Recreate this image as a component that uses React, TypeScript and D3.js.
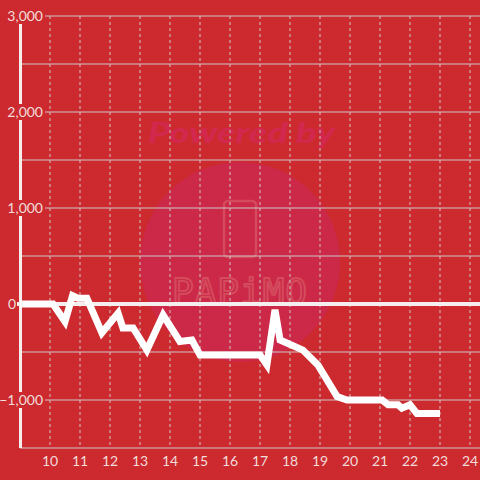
import React from "react";
import * as d3 from "d3";

const hours = [9, 10.1, 10.5, 10.75, 10.93, 11.23, 11.73, 12.27, 12.43, 12.77, 13.23, 13.77, 14.33, 14.73, 15, 17, 17.23, 17.5, 17.67, 18.43, 18.93, 19.57, 19.9, 21.07, 21.27, 21.6, 21.73, 22, 22.23, 23];
const values = [0, 0, -183, 86, 60, 60, -300, -95, -250, -250, -480, -115, -390, -375, -530, -530, -635, -60, -375, -480, -635, -965, -1000, -1000, -1050, -1050, -1085, -1050, -1140, -1140];
const xTicks = [10, 11, 12, 13, 14, 15, 16, 17, 18, 19, 20, 21, 22, 23, 24];
const yGrid = [-1500, -1000, -500, 0, 500, 1000, 1500, 2000, 2500, 3000];
const yLabels = [-1000, 0, 1000, 2000, 3000];

const W = 480, H = 480;
const BG = "#cc2a2e";
const TEXT = "#f2dcdc";
const GRID = "#cfc6c6";
const WHITE = "#f4eeee";

export default function App() {
  const x = d3.scaleLinear().domain([9, 24]).range([20, 470]);
  const y = d3.scaleLinear().domain([-1500, 3000]).range([448, 16]);
  const fmt = d3.format(",");
  const data = hours.map((h, i) => ({ h, v: values[i] }));
  const line = d3.line<{ h: number; v: number }>().x(d => x(d.h)).y(d => y(d.v));
  const font = "Lato, 'Open Sans', sans-serif";

  return (
    <svg width={W} height={H} style={{ position: "absolute", left: 0, top: 0, display: "block" }}>
      <rect x={0} y={0} width={W} height={H} fill={BG} />
      {/* watermark */}
      <circle cx={240} cy={262} r={100} fill="#cc2848" />
      <text x={148} y={143} fontFamily={font} fontWeight={900} fontStyle="italic" fontSize={29} fill="#d2284e" textLength={187} lengthAdjust="spacingAndGlyphs">Powered by</text>
      <rect x={224} y={201} width={32} height={56} rx={4} fill="none" stroke="#d85a66" strokeWidth={2.5} opacity={0.7} />
      <text x={240} y={304} textAnchor="middle" fontFamily="'DejaVu Sans Mono', monospace" fontSize={36} fill="none" stroke="#d85a66" strokeWidth={2} opacity={0.7} letterSpacing={1}>PAPiMO</text>

      {/* horizontal grid */}
      {yGrid.map(v => (
        v === 0 ? null :
        <line key={"hg" + v} x1={20} x2={W} y1={y(v)} y2={y(v)} stroke={GRID} strokeWidth={1} />
      ))}
      {/* vertical dashed grid */}
      {xTicks.map(t => (
        <line key={"vg" + t} x1={x(t)} x2={x(t)} y1={y(3000)} y2={y(-1500)} stroke={GRID} strokeWidth={1} strokeDasharray="3,3" />
      ))}
      {/* y axis */}
      <line x1={20.5} x2={20.5} y1={y(3000)} y2={y(-1500)} stroke={WHITE} strokeWidth={3} />
      {/* zero line */}
      <line x1={17} x2={W} y1={y(0)} y2={y(0)} stroke={WHITE} strokeWidth={4} />

      {/* y labels with background */}
      {yLabels.map(v => {
        const isZero = v === 0;
        const ex = isZero ? 16 : 43;
        return (
          <g key={"yl" + v}>
            {!isZero && <rect x={1} y={y(v) - 8} width={44} height={16} fill={BG} />}
            <text x={ex} y={y(v) + 5} textAnchor="end" fontFamily={font} fontSize={14} fill={TEXT}>{fmt(v)}</text>
          </g>
        );
      })}

      {/* x labels */}
      {xTicks.map(t => (
        <text key={"xl" + t} x={x(t)} y={466} textAnchor="middle" fontFamily={font} fontSize={14} fill={TEXT}>{t}</text>
      ))}

      {/* data line */}
      <path d={line(data) || ""} fill="none" stroke="#ffffff" strokeWidth={7} strokeLinejoin="miter" strokeLinecap="butt" />
    </svg>
  );
}
